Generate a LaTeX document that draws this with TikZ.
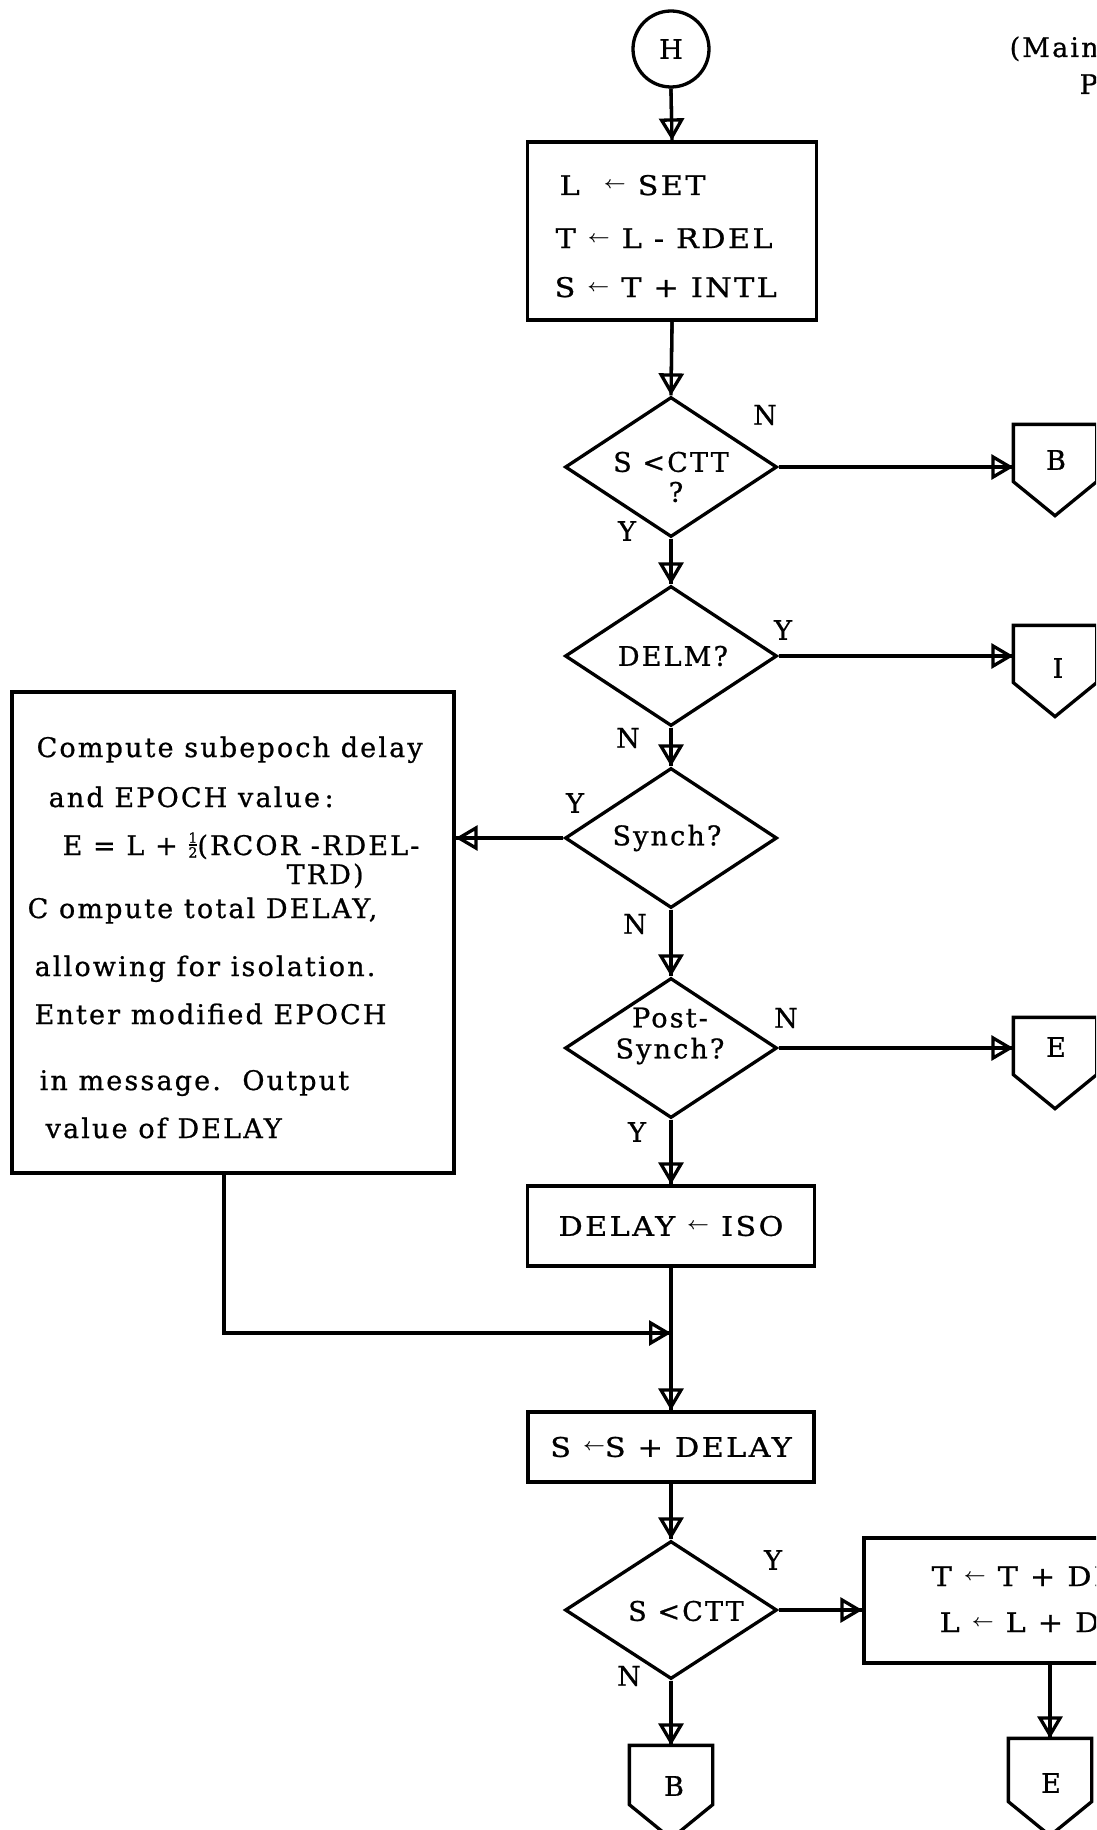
\RequirePackage{fix-cm}
\documentclass[tikz,border=0pt]{standalone}
\usepackage{fontspec}
\usepackage{graphicx}
\setmainfont{DejaVu Serif}[LetterSpace=8,FakeBold=0.8]
\usetikzlibrary{arrows.meta,shapes.geometric,calc}
\newcommand\la{\raisebox{6pt}{\fontsize{17}{17}\selectfont\boldmath$\leftarrow$}}
\newcommand\half{\raisebox{-2.5pt}{\fontsize{14}{14}\selectfont\vbox{\halign{\hfil##\hfil\cr 1\cr\noalign{\kern1.5pt\hrule height1.4pt\kern1.5pt}2\cr}}}}
\newcommand\widetxt[1]{\scalebox{1.12}[1]{#1}}
\newcommand\offpg[1]{\draw (#1.north west) -- (#1.north east) -- (#1.south east) -- ($(#1.south)+(0,34)$) -- (#1.south west) -- cycle;}
\tikzset{
  proc/.style={draw, rectangle, inner sep=0},
  dia/.style={draw, diamond, inner sep=0, minimum width=212, minimum height=140},
  flow/.style={-{Triangle[open,length=22pt,width=25pt]}, preaction={draw,-}},
  lbl/.style={inner sep=0, anchor=center},
  txt/.style={inner sep=0, anchor=base west},
  opg/.style={inner sep=0, minimum width=80, minimum height=54},
}
\begin{document}
\begin{tikzpicture}[x=1pt,y=-1pt, line width=3.3pt, font=\fontsize{27}{32}\selectfont]
\useasboundingbox (0,0) rectangle (1096,1830);
\fill[white] (0,0) rectangle (1096,1830);
\clip (0,0) rectangle (1096,1830);

% header (cut off)
\node[txt] (hd1) at (1008,57) {(Main};
\node[txt] (hd2) at (1078,94) {P};

% start
\node[circle, draw, minimum size=76, inner sep=0] (h) at (671,49) {H};

% box 1
\node[proc, minimum width=289, minimum height=178] (b1) at (672,231) {};
\node[txt] (b1a) at (558,195) {\widetxt{L \ \la\ SET}};
\node[txt] (b1b) at (554,248) {\widetxt{T \la\ L - RDEL}};
\node[txt] (b1c) at (553,297) {\widetxt{S \la\ T + INTL}};

% decision 1
\node[dia] (d1) at (671,467) {};
\node[lbl] (d1t) at (671,462) {S <CTT};
\node[lbl] (d1q) at (676,492) {?};
\node[lbl] (d1n) at (765,415) {N};
\node[lbl] (d1y) at (627,531) {Y};
\node[opg] (c1) at (1055,453) {};
\node[lbl] (c1t) at (1056,460) {B};

% decision 2
\node[dia] (d2) at (671,656) {};
\node[lbl] (d2t) at (673,656) {DELM?};
\node[lbl] (d2y) at (783,630) {Y};
\node[opg] (c2) at (1055,654) {};
\node[lbl] (c2t) at (1058,668) {I};
\node[lbl] (d2n) at (628,738) {N};

% decision 3
\node[dia] (d3) at (671,838) {};
\node[lbl] (d3t) at (667,838) {Synch?};
\node[lbl] (d3y) at (575,803) {Y};
\node[lbl] (d3n) at (635,924) {N};

% big box
\node[proc, minimum width=442, minimum height=481] (bb) at (233,932.5) {};
\node[txt] (bb1) at (35,757) {Compute subepoch delay};
\node[txt] (bb2) at (47,807) {and EPOCH value\,:};
\node[txt] (bb3) at (61,855) {E = L + \half(RCOR -RDEL-};
\node[txt] (bb4) at (285,884) {TRD)};
\node[txt] (bb5) at (26,918) {C ompute total DELAY,};
\node[txt] (bb6) at (33,976) {allowing for isolation.};
\node[txt] (bb7) at (33,1024) {Enter modified EPOCH};
\node[txt] (bb8) at (38,1090) {in message.\ \ Output};
\node[txt] (bb9) at (44,1138) {value of DELAY};

% decision 4
\node[dia] (d4) at (671,1048) {};
\node[lbl, align=center, font=\fontsize{27}{31}\selectfont] (d4t) at (670,1036) {Post-\\Synch?};
\node[lbl] (d4n) at (786,1018) {N};
\node[lbl] (d4y) at (637,1132) {Y};
\node[opg] (c3) at (1055,1046) {};
\node[lbl] (c3t) at (1056,1047) {E};

% box 2
\node[proc, minimum width=287, minimum height=80] (b2) at (671,1226) {\widetxt{DELAY \la\ ISO}};
\coordinate (j) at (671,1333);

% box 3
\node[proc, minimum width=286, minimum height=70] (b3) at (671,1447) {\widetxt{S \la S + DELAY}};

% decision 5
\node[dia, minimum height=138] (d5) at (671,1610) {};
\node[lbl] (d5t) at (686,1611) {S <CTT};
\node[lbl] (d5y) at (773,1560) {Y};
\node[lbl] (d5n) at (629,1676) {N};

% box 4 (cut off at the right edge)
\node[proc, minimum width=372, minimum height=125] (b4) at (1050,1600.5) {};
\node[txt] (b4a) at (930,1586) {\widetxt{T \la\ T + DELAY}};
\node[txt] (b4b) at (938,1632) {\widetxt{L \la\ L + DELAY}};

% bottom connectors
\node[opg, minimum height=56] (c4) at (671,1775) {};
\node[lbl] (c4t) at (674,1786) {B};
\node[opg, minimum height=60] (c5) at (1050,1770) {};
\node[lbl] (c5t) at (1051,1783) {E};

\offpg{c1}
\offpg{c2}
\offpg{c3}
\offpg{c4}
\offpg{c5}

% connectors
\draw[flow] (h.south) -- (b1.north);
\draw[flow] (b1.south) -- (d1.north);
\draw[flow] (d1.east) -- (d1.east -| c1.west);
\draw[flow] (d1.south) -- (d2.north);
\draw[flow] (d2.east) -- (d2.east -| c2.west);
\draw[flow] (d2.south) -- (d3.north);
\draw[flow] (d3.west) -- (d3.west -| bb.east);
\draw[flow] (d3.south) -- (d4.north);
\draw[flow] (d4.east) -- (d4.east -| c3.west);
\draw[flow] (d4.south) -- (b2.north);
\draw[flow] (b2.south) -- (b3.north);
\draw[flow] ([xshift=-9pt]bb.south) |- (j);
\draw[flow] (b3.south) -- (d5.north);
\draw[flow] (d5.east) -- (d5.east -| b4.west);
\draw[flow] (d5.south) -- (c4.north);
\draw[flow] (b4.south) -- (c5.north);
\end{tikzpicture}
\end{document}
